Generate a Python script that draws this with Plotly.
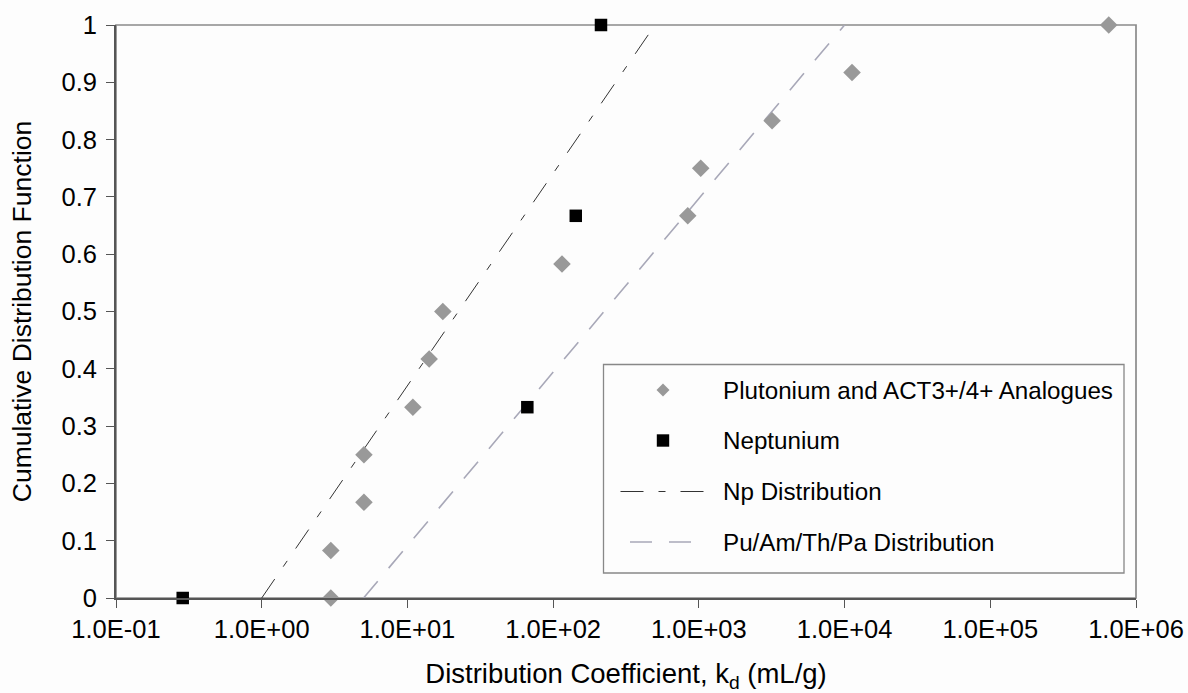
import plotly.graph_objects as go

# Sorption data: distribution coefficient kd (mL/g) and cumulative probability
pu_kd = [2.98, 2.98, 5.03, 5.03, 10.9, 14.1, 17.5, 115, 839, 1030, 3180, 11250, 650000]
pu_cdf = [0.0, 0.083, 0.167, 0.25, 0.333, 0.417, 0.5, 0.583, 0.667, 0.75, 0.833, 0.917, 1.0]

np_kd = [0.287, 66.5, 143, 213]
np_cdf = [0.0, 0.333, 0.667, 1.0]

# Fitted log-uniform distributions (end points)
np_dist_kd = [1.0, 500.0]
np_dist_cdf = [0.0, 1.0]
pu_dist_kd = [5.0, 10000.0]
pu_dist_cdf = [0.0, 1.0]

x_tick_vals = [0.1, 1, 10, 100, 1000, 10000, 100000, 1000000]
x_tick_text = ["1.0E-01", "1.0E+00", "1.0E+01", "1.0E+02", "1.0E+03", "1.0E+04", "1.0E+05", "1.0E+06"]
y_tick_vals = [0, 0.1, 0.2, 0.3, 0.4, 0.5, 0.6, 0.7, 0.8, 0.9, 1.0]
y_tick_text = ["0", "0.1", "0.2", "0.3", "0.4", "0.5", "0.6", "0.7", "0.8", "0.9", "1"]

legend_labels = [
    "Plutonium and ACT3+/4+ Analogues",
    "Neptunium",
    "Np Distribution",
    "Pu/Am/Th/Pa Distribution",
]

FONT = "Liberation Sans, Arial, Helvetica, sans-serif"
PU_GREY = "#999999"
NP_LINE = "#333333"
PU_LINE = "#a8a8b8"
NP_DASH = "23px,15px,7px,15px"
PU_DASH = "22px,17px"

fig = go.Figure()

fig.add_trace(go.Scatter(
    x=np_dist_kd, y=np_dist_cdf, mode="lines", name=legend_labels[2],
    line=dict(color=NP_LINE, width=1, dash=NP_DASH), showlegend=False,
))
fig.add_trace(go.Scatter(
    x=pu_dist_kd, y=pu_dist_cdf, mode="lines", name=legend_labels[3],
    line=dict(color=PU_LINE, width=1.6, dash=PU_DASH), showlegend=False,
))
fig.add_trace(go.Scatter(
    x=pu_kd, y=pu_cdf, mode="markers", name=legend_labels[0],
    marker=dict(symbol="diamond", size=13.5, color=PU_GREY, line=dict(width=0)),
    cliponaxis=False, showlegend=False,
))
fig.add_trace(go.Scatter(
    x=np_kd, y=np_cdf, mode="markers", name=legend_labels[1],
    marker=dict(symbol="square", size=12.5, color="#000000", line=dict(width=0)),
    cliponaxis=False, showlegend=False,
))

W, H = 1188, 693
ML, MR, MT, MB = 116, 52, 25, 95
PW, PH = W - ML - MR, H - MT - MB


def px_x(px):
    return (px - ML) / PW


def px_y(py):
    return (H - MB - py) / PH


shapes = [
    # plot-area frame (top/right edges visible, left/bottom covered by axis lines)
    dict(type="rect", xref="paper", yref="paper", x0=0, x1=1, y0=0, y1=1,
         line=dict(color="#8a8a8a", width=1.7), layer="below"),
    # legend frame
    dict(type="rect", xref="paper", yref="paper",
         x0=px_x(603.5), x1=px_x(1124), y0=px_y(573), y1=px_y(364.5),
         line=dict(color="#888888", width=1.3), fillcolor="rgba(0,0,0,0)"),
]

row_y = [390, 440.5, 491.5, 542]
marker_x = 663

# legend swatches
shapes.append(dict(type="path", xref="paper", yref="paper",
                   xsizemode="pixel", ysizemode="pixel",
                   xanchor=px_x(marker_x), yanchor=px_y(row_y[0]),
                   path="M0,-6.5 L6.5,0 L0,6.5 L-6.5,0 Z",
                   fillcolor=PU_GREY, line=dict(width=0)))
shapes.append(dict(type="path", xref="paper", yref="paper",
                   xsizemode="pixel", ysizemode="pixel",
                   xanchor=px_x(marker_x), yanchor=px_y(row_y[1]),
                   path="M-6.2,-6.2 L6.2,-6.2 L6.2,6.2 L-6.2,6.2 Z",
                   fillcolor="#000000", line=dict(width=0)))
shapes.append(dict(type="line", xref="paper", yref="paper",
                   x0=px_x(620.5), x1=px_x(705.5), y0=px_y(row_y[2]), y1=px_y(row_y[2]),
                   line=dict(color=NP_LINE, width=1, dash=NP_DASH)))
shapes.append(dict(type="line", xref="paper", yref="paper",
                   x0=px_x(630), x1=px_x(694), y0=px_y(row_y[3]), y1=px_y(row_y[3]),
                   line=dict(color=PU_LINE, width=1.6, dash=PU_DASH)))

annotations = []
for label, ry in zip(legend_labels, row_y):
    annotations.append(dict(
        xref="paper", yref="paper", x=px_x(721), y=px_y(ry),
        xanchor="left", yanchor="middle", text=label, showarrow=False,
        font=dict(family=FONT, size=24.2, color="#000000"),
    ))

fig.update_layout(
    width=W, height=H,
    margin=dict(l=ML, r=MR, t=MT, b=MB, autoexpand=False),
    paper_bgcolor="#fdfdfd", plot_bgcolor="#fdfdfd",
    font=dict(family=FONT, color="#000000"),
    shapes=shapes, annotations=annotations,
    showlegend=False,
)

fig.update_xaxes(
    type="log", range=[-1, 6],
    tickvals=x_tick_vals, ticktext=x_tick_text,
    tickfont=dict(family=FONT, size=25.5, color="#000000"),
    ticks="outside", ticklen=8, tickwidth=1, tickcolor="#555555",
    showline=True, linecolor="#555555", linewidth=1.7,
    showgrid=False, zeroline=False,
    title=dict(text="Distribution Coefficient, k<sub>d</sub> (mL/g)",
               font=dict(family=FONT, size=27.5, color="#000000"), standoff=26),
)
fig.update_yaxes(
    range=[0, 1],
    tickvals=y_tick_vals, ticktext=y_tick_text,
    tickfont=dict(family=FONT, size=25.5, color="#000000"),
    ticks="outside", ticklen=8, tickwidth=1, tickcolor="#555555",
    ticklabelstandoff=4,
    showline=True, linecolor="#555555", linewidth=1.7,
    showgrid=False, zeroline=False,
    title=dict(text="Cumulative Distribution Function",
               font=dict(family=FONT, size=26.5, color="#000000"), standoff=22),
)

fig.write_html("out.html")
